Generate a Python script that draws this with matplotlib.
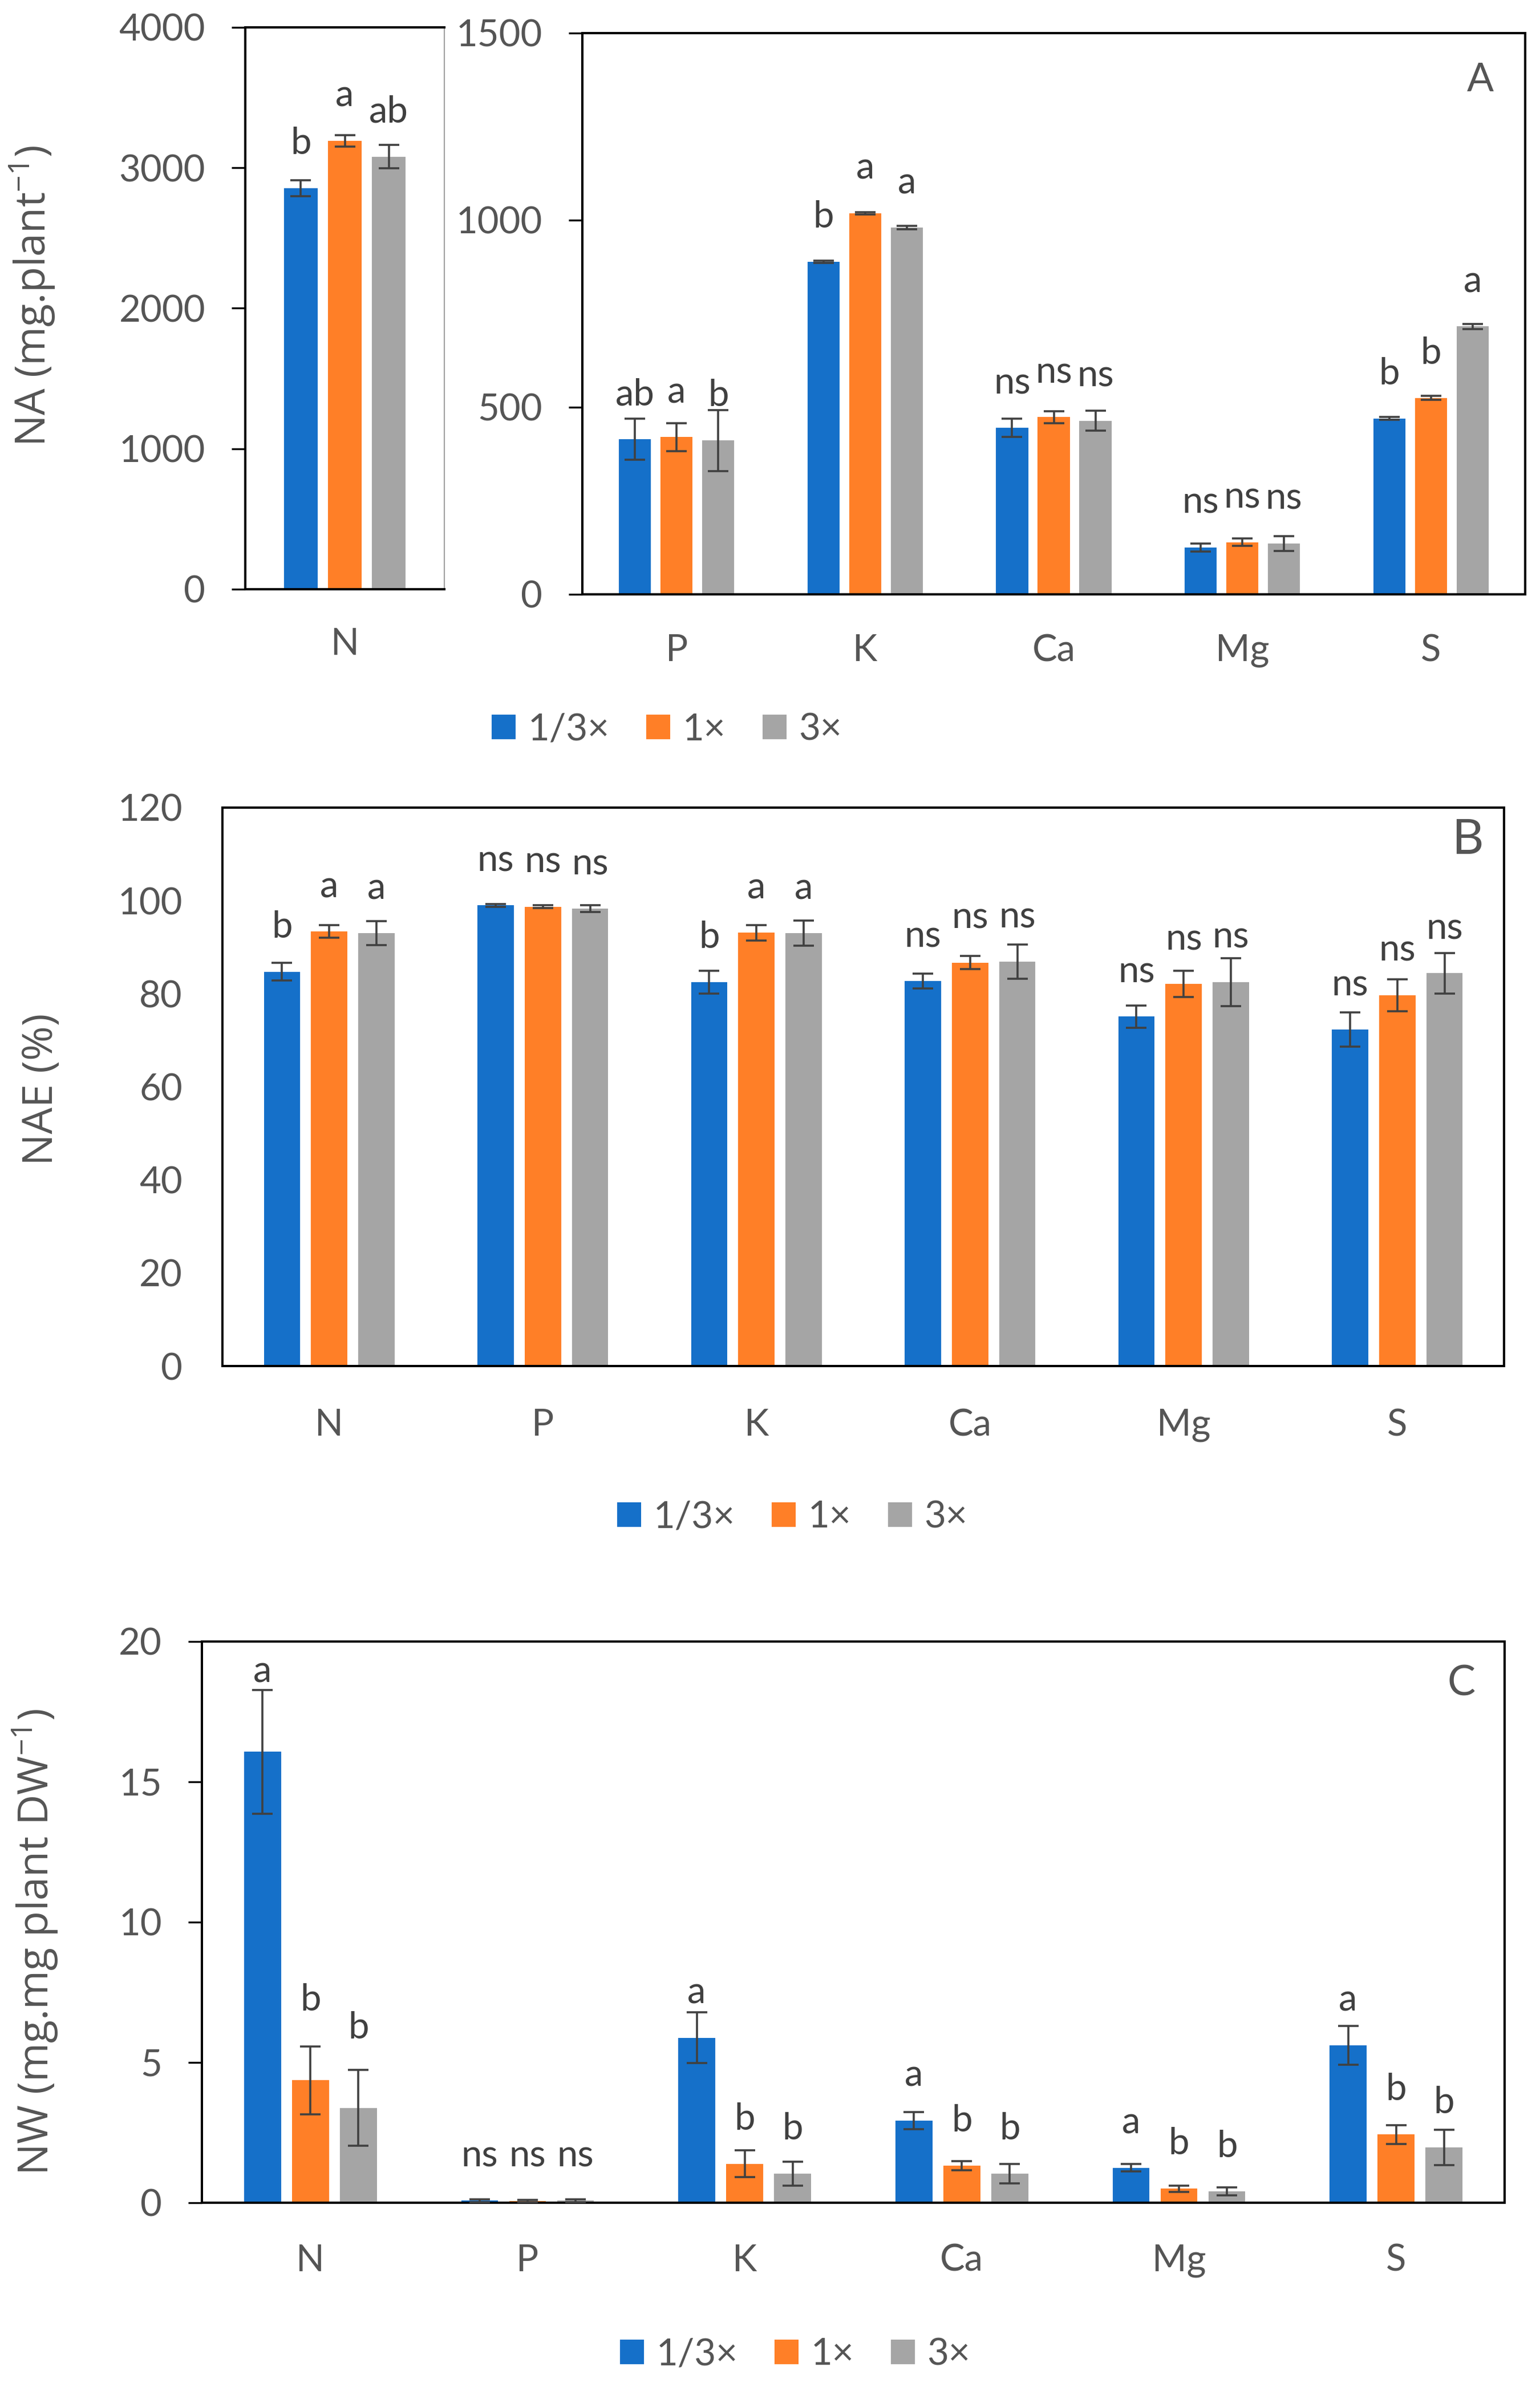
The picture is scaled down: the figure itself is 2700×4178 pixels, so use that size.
import matplotlib
matplotlib.use("Agg")
import matplotlib.pyplot as plt
from matplotlib.patches import Patch
import numpy as np

plt.rcParams['font.family'] = ['Lato', 'DejaVu Sans']
plt.rcParams['mathtext.fontset'] = 'custom'
plt.rcParams['mathtext.rm'] = 'Open Sans'
plt.rcParams['mathtext.it'] = 'Open Sans:italic'
plt.rcParams['mathtext.bf'] = 'Open Sans:bold'

# ---------------- data ----------------
series_names = ['1/3×', '1×', '3×']
colors = ['#1570C9', '#FF7F27', '#A5A5A5']

# Panel A (left, N only)
A1_cats = ['N']
A1_blue = [2855]; A1_blue_err = [58]
A1_orange = [3192]; A1_orange_err = [40]
A1_gray = [3080]; A1_gray_err = [83]
A1_lab_blue = ['b']; A1_lab_orange = ['a']; A1_lab_gray = ['ab']

# Panel A (right)
A2_cats = ['P', 'K', 'Ca', 'Mg', 'S']
A2_blue = [414, 889, 445, 125, 470]
A2_blue_err = [55, 3, 25, 10, 4]
A2_orange = [420, 1019, 474, 139, 525]
A2_orange_err = [38, 3, 16, 10, 5]
A2_gray = [411, 980, 464, 136, 716]
A2_gray_err = [82, 4, 27, 20, 7]
A2_lab_blue = ['ab', 'b', 'ns', 'ns', 'b']
A2_lab_orange = ['a', 'a', 'ns', 'ns', 'b']
A2_lab_gray = ['b', 'a', 'ns', 'ns', 'a']

# Panel B
B_cats = ['N', 'P', 'K', 'Ca', 'Mg', 'S']
B_blue = [84.7, 99.0, 82.5, 82.7, 75.1, 72.3]
B_blue_err = [1.9, 0.3, 2.4, 1.6, 2.4, 3.7]
B_orange = [93.4, 98.7, 93.1, 86.7, 82.1, 79.7]
B_orange_err = [1.4, 0.3, 1.7, 1.4, 2.8, 3.4]
B_gray = [93.0, 98.3, 93.0, 86.9, 82.5, 84.4]
B_gray_err = [2.6, 0.7, 2.7, 3.7, 5.2, 4.3]
B_lab_blue = ['b', 'ns', 'b', 'ns', 'ns', 'ns']
B_lab_orange = ['a', 'ns', 'a', 'ns', 'ns', 'ns']
B_lab_gray = ['a', 'ns', 'a', 'ns', 'ns', 'ns']

# Panel C
C_cats = ['N', 'P', 'K', 'Ca', 'Mg', 'S']
C_blue = [16.07, 0.08, 5.88, 2.93, 1.25, 5.61]
C_blue_err = [2.2, 0.05, 0.9, 0.3, 0.13, 0.7]
C_orange = [4.36, 0.07, 1.39, 1.32, 0.50, 2.43]
C_orange_err = [1.2, 0.04, 0.47, 0.17, 0.11, 0.34]
C_gray = [3.38, 0.08, 1.04, 1.04, 0.41, 1.98]
C_gray_err = [1.35, 0.05, 0.43, 0.34, 0.14, 0.63]
C_lab_blue = ['a', 'ns', 'a', 'a', 'a', 'a']
C_lab_orange = ['b', 'ns', 'b', 'b', 'b', 'b']
C_lab_gray = ['b', 'ns', 'b', 'b', 'b', 'b']

A1_ticks = [0, 1000, 2000, 3000, 4000]
A2_ticks = [0, 500, 1000, 1500]
B_ticks = [0, 20, 40, 60, 80, 100, 120]
C_ticks = [0, 5, 10, 15, 20]

# ---------------- layout ----------------
W, H = 2700, 4178
DPI = 100
fig = plt.figure(figsize=(W / DPI, H / DPI), dpi=DPI)

TXT = '#555555'
LBL = '#404040'
ERR = '#404040'
FS = 47          # tick / label font size (pt)
PX = 72.0 / DPI  # points per pixel


def px_axes(x0, y0, x1, y1):
    return fig.add_axes([x0 / W, 1 - y1 / H, (x1 - x0) / W, (y1 - y0) / H])


def draw_panel(ax, cats, vals, errs, labs, ticks, ylim, tick_len_px=24,
               label_off_px=None, right_gray=False, xpad_px=67):
    n = len(cats)
    x = np.arange(n)
    width = 0.17
    step = 0.221
    for k in range(3):
        pos = x + (k - 1) * step
        ax.bar(pos, vals[k], width=width, color=colors[k], zorder=2)
        ax.errorbar(pos, vals[k], yerr=errs[k], fmt='none', ecolor=ERR,
                    elinewidth=2.6, capsize=13, capthick=2.6, zorder=3)
        for i in range(n):
            off = 60
            if label_off_px is not None:
                off = label_off_px[i]
            ax.annotate(labs[k][i], (pos[i], vals[k][i]),
                        xytext=(0, off * PX), textcoords='offset points',
                        ha='center', va='baseline', fontsize=FS, color=LBL)
    ax.set_xlim(-0.5, n - 0.5)
    ax.set_ylim(*ylim)
    ax.set_yticks(ticks)
    ax.set_yticklabels([str(t) for t in ticks])
    ax.set_xticks(x)
    ax.set_xticklabels(cats)
    ax.tick_params(axis='x', length=0, pad=xpad_px * PX, labelsize=FS,
                   labelcolor=TXT)
    ax.tick_params(axis='y', length=tick_len_px * PX, width=2.4,
                   pad=(70 - tick_len_px) * PX, labelsize=FS,
                   labelcolor=TXT, direction='out', color='black')
    for s in ['left', 'right', 'top', 'bottom']:
        ax.spines[s].set_linewidth(2.9)
        ax.spines[s].set_color('black')
    if right_gray:
        ax.spines['right'].set_linewidth(1.2)
        ax.spines['right'].set_color('#8C8C8C')


def legend_at(x_px, y_px):
    handles = [Patch(facecolor=c, edgecolor='none') for c in colors]
    fig.legend(handles, series_names, loc='center left',
               bbox_to_anchor=(x_px / W, 1 - y_px / H), ncol=3,
               frameon=False, fontsize=FS, labelcolor=TXT,
               handlelength=0.65, handleheight=0.63, handletextpad=0.33,
               columnspacing=0.98, borderpad=0, borderaxespad=0)


def ylabel_at(x_px, y_px, text):
    fig.text(x_px / W, 1 - y_px / H, text, rotation=90, ha='center',
             va='center', fontsize=53, color=TXT, family='Open Sans')


def letter_at(x_px, y_px, text, size):
    fig.text(x_px / W, 1 - y_px / H, text, ha='center', va='center',
             fontsize=size, color=TXT)


# Panel A left
axA1 = px_axes(430, 48, 779, 1033)
draw_panel(axA1, A1_cats, [A1_blue, A1_orange, A1_gray],
           [A1_blue_err, A1_orange_err, A1_gray_err],
           [A1_lab_blue, A1_lab_orange, A1_lab_gray],
           A1_ticks, (0, 4000), right_gray=True)

# Panel A right
axA2 = px_axes(1021, 58, 2674, 1042)
draw_panel(axA2, A2_cats, [A2_blue, A2_orange, A2_gray],
           [A2_blue_err, A2_orange_err, A2_gray_err],
           [A2_lab_blue, A2_lab_orange, A2_lab_gray],
           A2_ticks, (0, 1500), xpad_px=69)
letter_at(2595, 140, 'A', 50)
ylabel_at(57, 519, 'NA (mg.plant$^{-1}$)')
legend_at(862, 1279)

# Panel B
axB = px_axes(390, 1416, 2637, 2395)
draw_panel(axB, B_cats, [B_blue, B_orange, B_gray],
           [B_blue_err, B_orange_err, B_gray_err],
           [B_lab_blue, B_lab_orange, B_lab_gray],
           B_ticks, (0, 120), tick_len_px=0, xpad_px=74)
letter_at(2573, 1473, 'B', 62)
ylabel_at(73, 1910, 'NAE (%)')
legend_at(1082, 2660)

# Panel C
axC = px_axes(354, 2878, 2638, 3862)
draw_panel(axC, C_cats, [C_blue, C_orange, C_gray],
           [C_blue_err, C_orange_err, C_gray_err],
           [C_lab_blue, C_lab_orange, C_lab_gray],
           C_ticks, (0, 20), label_off_px=[122, 60, 60, 60, 60, 60],
           xpad_px=72)
letter_at(2562, 2952, 'C', 53)
ylabel_at(62, 3405, 'NW (mg.mg plant DW$^{-1}$)')
legend_at(1087, 4128)

fig.savefig('out.png', dpi=DPI, facecolor='white')
